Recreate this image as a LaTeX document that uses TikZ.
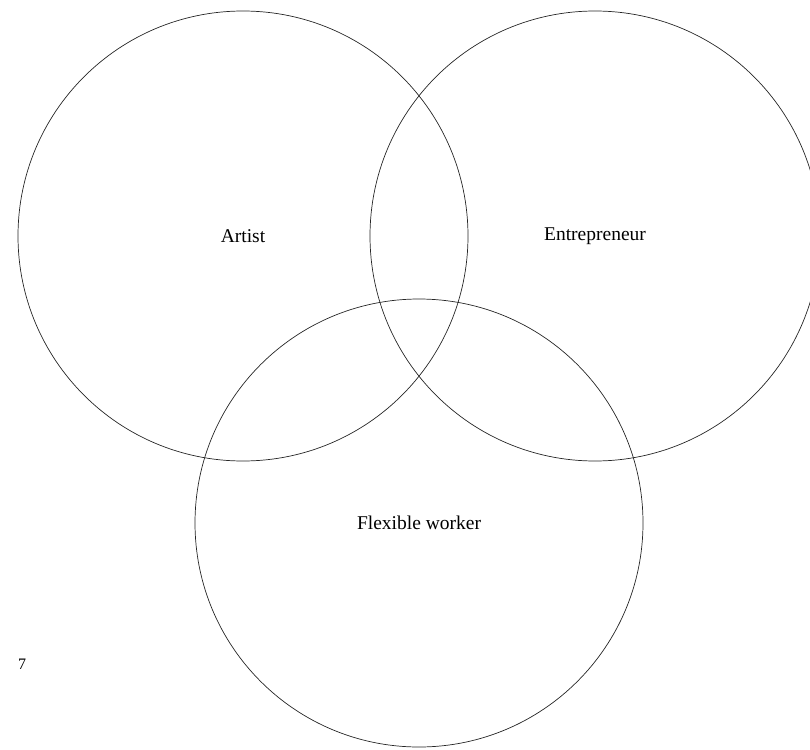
\documentclass[tikz,border=0pt]{standalone}
\usepackage{fontspec}
\setmainfont{Liberation Serif}
\begin{document}
\begin{tikzpicture}[x=1pt,y=-1pt,line join=round,line cap=round,font=\fontsize{19.5}{23}\selectfont]
\tikzset{set/.style={draw=black!85,line width=.7pt}}
\useasboundingbox (0,0) rectangle (810,749);
% three sets
\coordinate (artist) at (243,236);
\coordinate (entre) at (595,236);
\coordinate (flex) at (419,523);
\draw[set] (artist) circle[radius=225pt];
\draw[set] (entre) circle[radius=225pt];
\draw[set] (flex) circle[radius=224pt];
\node (lartist) at (artist) {Artist};
\node (lentre) at (entre) {Entrepreneur};
\node (lflex) at (flex) {Flexible worker};
\node[font=\fontsize{16}{18}\selectfont] (pg) at (22,664) {7};
\end{tikzpicture}
\end{document}
